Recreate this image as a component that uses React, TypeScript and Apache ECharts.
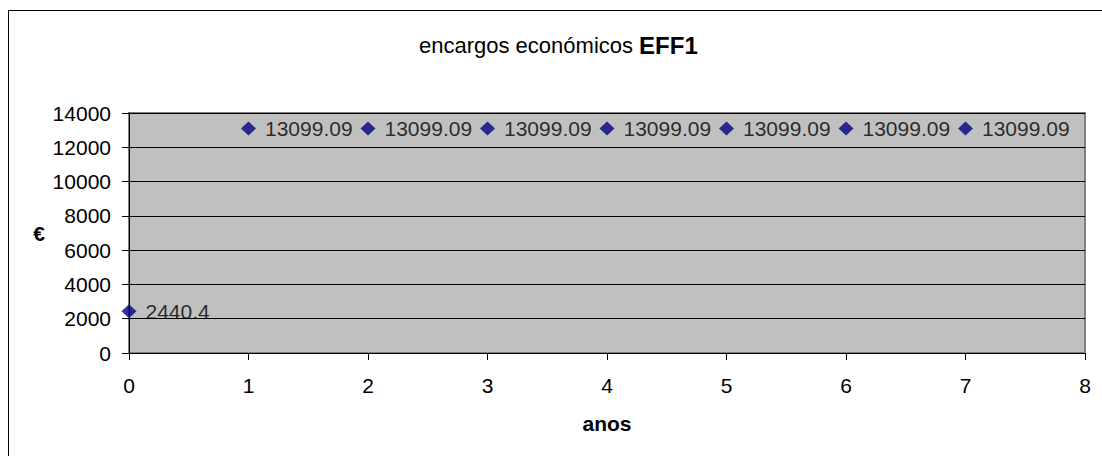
import React, { useEffect, useRef } from "react";
import * as echarts from "echarts";

// Years and yearly economic charges (€)
const years = [0, 1, 2, 3, 4, 5, 6, 7];
const charges = [2440.4, 13099.09, 13099.09, 13099.09, 13099.09, 13099.09, 13099.09, 13099.09];

const FONT = "Liberation Sans, Arial, sans-serif";

export default function App() {
  const ref = useRef<HTMLDivElement>(null);

  useEffect(() => {
    if (!ref.current) return;
    const chart = echarts.init(ref.current, undefined, { renderer: "svg" });
    chart.setOption({
      animation: false,
      backgroundColor: "#ffffff",
      textStyle: { fontFamily: FONT },
      title: {
        text: "{a|encargos económicos }{b|EFF1}",
        left: 414,
        top: 28,
        textStyle: {
          fontWeight: "normal",
          rich: {
            a: { fontSize: 22, fontWeight: "normal", color: "#000", fontFamily: FONT },
            b: { fontSize: 24, fontWeight: "bold", color: "#000", fontFamily: FONT },
          },
        },
      },
      graphic: [
        {
          type: "rect",
          shape: { x: 8.5, y: 10.5, width: 1300, height: 700 },
          style: { fill: "none", stroke: "#000", lineWidth: 1 },
          silent: true,
        },
      ],
      grid: {
        left: 129,
        top: 113,
        right: 17,
        bottom: 103,
        show: true,
        backgroundColor: "#c0c0c0",
        borderColor: "#808080",
        borderWidth: 2,
      },
      xAxis: {
        type: "value",
        min: 0,
        max: 8,
        interval: 1,
        name: "anos",
        nameLocation: "middle",
        nameGap: 60,
        nameTextStyle: { fontSize: 21, fontWeight: "bold", color: "#000", fontFamily: FONT },
        axisLine: { show: true, onZero: false, lineStyle: { color: "#000", width: 1 } },
        axisTick: { show: true, length: 7, lineStyle: { color: "#000" } },
        axisLabel: { fontSize: 21, color: "#000", margin: 22, fontFamily: FONT },
        splitLine: { show: false },
      },
      yAxis: {
        type: "value",
        min: 0,
        max: 14000,
        interval: 2000,
        name: "€",
        nameLocation: "middle",
        nameRotate: 0,
        nameGap: 84,
        nameTextStyle: { fontSize: 21, fontWeight: "bold", color: "#000", fontFamily: FONT },
        axisLine: { show: true, onZero: false, lineStyle: { color: "#000", width: 1 } },
        axisTick: { show: true, length: 7, lineStyle: { color: "#000" } },
        axisLabel: {
          fontSize: 21,
          color: "#000",
          margin: 18,
          fontFamily: FONT,
          formatter: (v: number) => String(v),
        },
        splitLine: { show: true, lineStyle: { color: "#000", width: 1 } },
      },
      series: [
        {
          type: "scatter",
          data: years.map((x, i) => [x, charges[i]]),
          symbol: "diamond",
          symbolSize: [15, 14],
          itemStyle: { color: "#000080" },
          label: {
            show: true,
            position: "right",
            distance: 9,
            fontSize: 21,
            color: "#000",
            fontFamily: FONT,
            formatter: (p: any) => String(p.value[1]),
          },
        },
      ],
    });
    return () => chart.dispose();
  }, []);

  return (
    <div
      ref={ref}
      style={{ position: "fixed", left: 0, top: 0, width: 1102, height: 456 }}
    />
  );
}
